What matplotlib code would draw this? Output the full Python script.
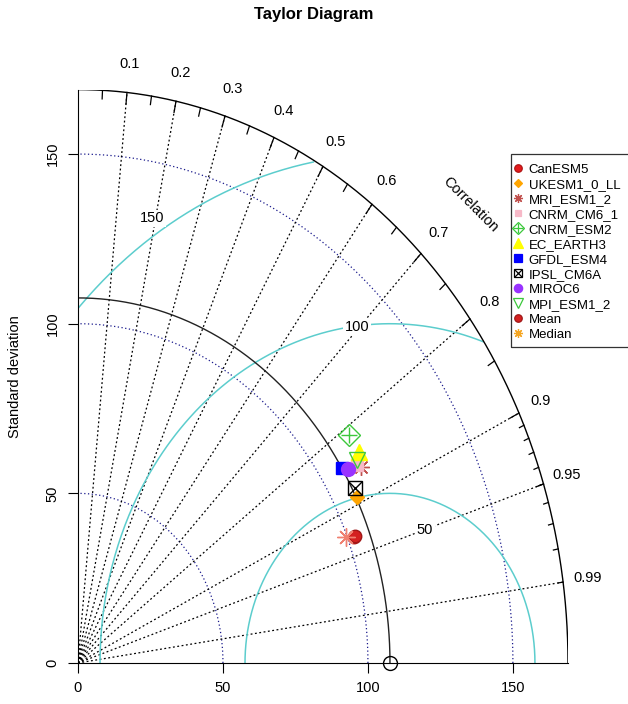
import numpy as np
import matplotlib.pyplot as plt
from matplotlib.lines import Line2D
from matplotlib.patches import Rectangle

plt.rcParams['font.family'] = ['Liberation Sans', 'DejaVu Sans']

# model statistics (standard deviation, correlation with observation)
models = ['CanESM5', 'UKESM1_0_LL', 'MRI_ESM1_2', 'CNRM_CM6_1', 'CNRM_ESM2', 'EC_EARTH3',
          'GFDL_ESM4', 'IPSL_CM6A', 'MIROC6', 'MPI_ESM1_2', 'Mean', 'Median']
model_sd = [102.2, 107.9, 113.4, 112.5, 115.2, 115.1, 107.7, 108.5, 109.3, 113.3, 102.6, 99.6]
model_cor = [0.932, 0.891, 0.860, 0.855, 0.812, 0.842, 0.845, 0.880, 0.852, 0.849, 0.931, 0.928]
ref_sd = 107.6

sd_ticks = [0, 50, 100, 150]
sd_arcs = [50, 100, 150]
rms_levels = [50, 100, 150]
cor_labels = [0.1, 0.2, 0.3, 0.4, 0.5, 0.6, 0.7, 0.8, 0.9, 0.95, 0.99]

maxsd = 169.0

# marker style per model: list of (marker, size, face, edge)
styles = [
    [('o', 9, '#E41A1C', '#B01515')],
    [('D', 7, '#FFA500', '#FFA500')],
    [((8, 2, 0), 12, '#C0504D', '#C0504D')],
    [('s', 8, '#F7B9C8', '#F7B9C8')],
    [('D', 11, 'none', '#3CC83C'), ('+', 11, 'none', '#3CC83C')],
    [('^', 11, '#FFFF00', '#FFFF00')],
    [('s', 9, '#0000FF', '#0000FF')],
    [('s', 9.5, 'none', 'black'), ('x', 9.5, 'none', 'black')],
    [('o', 10, '#9933FF', '#9933FF')],
    [('v', 11, 'none', '#3CC83C')],
    [('o', 9, '#D42020', '#A01818')],
    [((8, 2, 0), 13, 'none', '#F08070')],
]
legend_edge = {11: '#F5A623'}

fig = plt.figure(figsize=(6.28, 7.04), dpi=100)
ax = fig.add_axes([78 / 628, 41 / 704, 490 / 628, 573.4 / 704])
ax.set_xlim(0, maxsd)
ax.set_ylim(0, maxsd)

theta = np.linspace(0, np.pi / 2, 300)

# standard deviation arcs
for r in sd_arcs:
    ax.plot(r * np.cos(theta), r * np.sin(theta), color='#1A1A8C', lw=0.9,
            ls=(0, (1, 2)))

# correlation rays
for c in cor_labels:
    a = np.arccos(c)
    ax.plot([0, maxsd * np.cos(a)], [0, maxsd * np.sin(a)], color='black', lw=0.9,
            ls=(0, (1.5, 2)))

# centred RMS difference contours around the reference
t = np.linspace(0, np.pi, 400)
for g in rms_levels:
    xc = ref_sd + g * np.cos(t)
    yc = g * np.sin(t)
    keep = (xc >= 0) & (xc ** 2 + yc ** 2 <= maxsd ** 2)
    ax.plot(np.where(keep, xc, np.nan), np.where(keep, yc, np.nan), color='#5CCDCD', lw=1.1)

# rms labels: angle around the reference point and distance from it
for g, ang, dist in zip(rms_levels, [72.8, 96.6, 122.0], [41, 99.7, 154.6]):
    a = np.radians(ang)
    ax.text(ref_sd + dist * np.cos(a), dist * np.sin(a), str(g), fontsize=10.5,
            ha='center', va='center',
            bbox=dict(boxstyle='square,pad=0.1', fc='white', ec='none'))

# outer arc and reference arc
ax.plot(maxsd * np.cos(theta), maxsd * np.sin(theta), color='black', lw=1)
ax.plot(ref_sd * np.cos(theta), ref_sd * np.sin(theta), color='#222222', lw=1)

# tick marks on the outer arc
for vals, frac in [(np.arange(0.1, 0.95, 0.1), 0.98),
                   (np.arange(0.05, 1.0, 0.1), 0.985),
                   (np.arange(0.91, 0.995, 0.01), 0.99)]:
    for c in vals:
        a = np.arccos(c)
        ax.plot([maxsd * np.cos(a), frac * maxsd * np.cos(a)],
                [maxsd * np.sin(a), frac * maxsd * np.sin(a)], color='black', lw=0.9)

for c in cor_labels:
    a = np.arccos(c)
    ax.text(1.05 * maxsd * np.cos(a), 1.05 * maxsd * np.sin(a), f'{c:g}',
            fontsize=10.5, ha='center', va='center', clip_on=False)
ax.text(0.8 * maxsd, 0.8 * maxsd, 'Correlation', rotation=-45, fontsize=10.5,
        ha='center', va='center', clip_on=False)

# reference point
ax.plot(ref_sd, 0, 'o', ms=10, mfc='none', mec='black', mew=1, clip_on=False, zorder=5)

# model points
handles = []
for i, (name, sd, cor) in enumerate(zip(models, model_sd, model_cor)):
    a = np.arccos(cor)
    x, y = sd * np.cos(a), sd * np.sin(a)
    parts = []
    for m, ms, fc, ec in styles[i]:
        ax.plot(x, y, marker=m, ms=ms, mfc=fc, mec=ec, mew=1, ls='none', zorder=6 + i)
        lec = legend_edge.get(i, ec)
        lfc = fc if fc == 'none' else legend_edge.get(i, fc)
        parts.append(Line2D([], [], marker=m, ms=min(ms * 0.6, 6.5), mfc=lfc, mec=lec,
                            mew=0.9, ls='none'))
    handles.append(tuple(parts))

# axes
for s in ['top', 'right']:
    ax.spines[s].set_visible(False)
ax.spines['left'].set_bounds(0, maxsd)
ax.spines['bottom'].set_bounds(0, maxsd)
ax.set_xticks(sd_ticks)
ax.set_yticks(sd_ticks)
ax.tick_params(length=7.2, width=0.8, pad=6, labelsize=10.5)
for lab in ax.get_yticklabels():
    lab.set_rotation(90)
    lab.set_va('center')
ax.set_ylabel('Standard deviation', fontsize=10.5)
ax.yaxis.set_label_coords(-0.115, 0.5)

fig.text(0.5, 1 - 15 / 704, 'Taylor Diagram', fontsize=12, fontweight='bold',
         ha='center', va='center')

# legend with its own frame
leg = fig.legend(handles, models, loc='upper left',
                 bbox_to_anchor=(511 / 628, 1 - 161 / 704), fontsize=9.5,
                 frameon=False, handlelength=0.7, handletextpad=0.45,
                 labelspacing=0.21, borderpad=0.2, borderaxespad=0)
fig.patches.append(Rectangle((511 / 628, 1 - 347 / 704), 130 / 628, 193 / 704,
                             transform=fig.transFigure, fill=False, ec='#333333',
                             lw=0.9))

plt.savefig('out.png', dpi=100)
